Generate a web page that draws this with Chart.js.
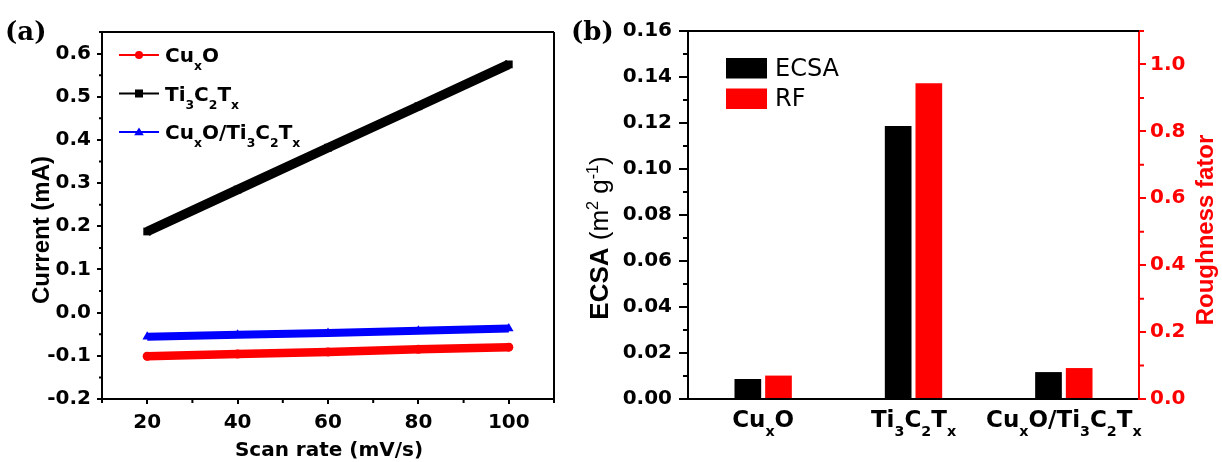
<!DOCTYPE html>
<html>
<head>
<meta charset="utf-8">
<script src="https://cdn.jsdelivr.net/npm/chart.js@4.4.0/dist/chart.umd.min.js"></script>
<style>
  body { margin: 0; background: #fff; }
  #wrap { position: relative; width: 1222px; height: 462px; }
  #panelA { position: absolute; left: 0; top: 0; }
  #panelB { position: absolute; left: 560px; top: 0; }
</style>
</head>
<body>
<div id="wrap">
  <canvas id="panelA" width="560" height="462"></canvas>
  <canvas id="panelB" width="662" height="462"></canvas>
</div>
<script>
// panel (a): current vs scan rate
const scanRate = [20, 40, 60, 80, 100];
const currentCuxO = [-0.101, -0.096, -0.091, -0.085, -0.080];
const currentTi3C2Tx = [0.188, 0.285, 0.382, 0.478, 0.575];
const currentComposite = [-0.056, -0.051, -0.047, -0.042, -0.037];
const scanTicks = [20, 40, 60, 80, 100];
const scanMinor = [10, 30, 50, 70, 90, 110];
const currentTicks = [-0.2, -0.1, 0.0, 0.1, 0.2, 0.3, 0.4, 0.5, 0.6];
const currentMinor = [-0.15, -0.05, 0.05, 0.15, 0.25, 0.35, 0.45, 0.55, 0.65];

// panel (b): ECSA and roughness factor
const materials = ['Cu_{x}O', 'Ti_{3}C_{2}T_{x}', 'Cu_{x}O/Ti_{3}C_{2}T_{x}'];
const ecsa = [0.0087, 0.1187, 0.0117];
const roughness = [0.070, 0.944, 0.0925];
const ecsaTicks = [0, 0.02, 0.04, 0.06, 0.08, 0.10, 0.12, 0.14, 0.16];
const ecsaMinor = [0.01, 0.03, 0.05, 0.07, 0.09, 0.11, 0.13, 0.15];
const rfTicks = [0, 0.2, 0.4, 0.6, 0.8, 1.0];
const rfMinor = [0.1, 0.3, 0.5, 0.7, 0.9, 1.1];

const RED = '#ff0000';
const BLUE = '#0000ff';

Chart.defaults.font.family = 'DejaVu Sans';

// "Cu_{x}O" -> segments with sub/superscripts
function parseRich(str) {
    const segs = [];
    const re = /([_^])\{([^}]*)\}|([^_^]+)/g;
    let m;
    while ((m = re.exec(str))) {
        if (m[3]) segs.push({ t: m[3], mode: '' });
        else segs.push({ t: m[2], mode: m[1] === '_' ? 'sub' : 'sup' });
    }
    return segs;
}

function drawRich(ctx, segs, x, y, o) {
    const size = o.size;
    const fam = o.family || 'DejaVu Sans';
    const fontFor = s => {
        const w = s.weight || o.weight || 'bold';
        const sz = s.mode ? size * 0.62 : size;
        return `${w} ${sz}px "${fam}"`;
    };
    let total = 0;
    segs.forEach(s => { ctx.font = fontFor(s); s.w = ctx.measureText(s.t).width; total += s.w; });
    let cx = o.align === 'center' ? x - total / 2 : x;
    ctx.fillStyle = o.color || '#000';
    ctx.textAlign = 'left';
    ctx.textBaseline = 'alphabetic';
    segs.forEach(s => {
        ctx.font = fontFor(s);
        let dy = 0;
        if (s.mode === 'sub') dy = size * 0.4;
        if (s.mode === 'sup') dy = -size * 0.4;
        ctx.fillText(s.t, cx, y + dy);
        cx += s.w;
    });
}

function drawRotated(ctx, segs, x, y, o) {
    ctx.save();
    ctx.translate(x, y);
    ctx.rotate(-Math.PI / 2);
    drawRich(ctx, segs, 0, 0, Object.assign({ align: 'center' }, o));
    ctx.restore();
}

function drawMarker(ctx, style, x, y, r, color) {
    ctx.fillStyle = color;
    ctx.beginPath();
    if (style === 'circle') ctx.arc(x, y, r, 0, Math.PI * 2);
    else if (style === 'rect') ctx.rect(x - r, y - r, 2 * r, 2 * r);
    else {
        ctx.moveTo(x, y - r * 1.1);
        ctx.lineTo(x + r * 1.2, y + r * 0.8);
        ctx.lineTo(x - r * 1.2, y + r * 0.8);
        ctx.closePath();
    }
    ctx.fill();
}

// short outward ticks between the labelled ones
function minorTicks(chart, id, values, len, color) {
    const s = chart.scales[id];
    const ctx = chart.ctx;
    ctx.save();
    ctx.strokeStyle = color;
    ctx.lineWidth = 2;
    ctx.beginPath();
    values.forEach(v => {
        const p = s.getPixelForValue(v);
        if (s.isHorizontal()) {
            ctx.moveTo(p, s.top); ctx.lineTo(p, s.top + len);
        } else if (s.position === 'left') {
            ctx.moveTo(s.right - len, p); ctx.lineTo(s.right, p);
        } else {
            ctx.moveTo(s.left, p); ctx.lineTo(s.left + len, p);
        }
    });
    ctx.stroke();
    ctx.restore();
}

function line(ctx, x1, y1, x2, y2, color) {
    ctx.save();
    ctx.strokeStyle = color;
    ctx.lineWidth = 2;
    ctx.beginPath();
    ctx.moveTo(x1, y1);
    ctx.lineTo(x2, y2);
    ctx.stroke();
    ctx.restore();
}

const tickGrid = len => ({ drawOnChartArea: false, color: '#000', lineWidth: 2, tickLength: len });
const blackBorder = { display: true, color: '#000', width: 2 };

// ---------- panel (a) ----------
const decorA = {
    id: 'decorA',
    afterDraw(chart) {
        const ctx = chart.ctx;
        const a = chart.chartArea;
        line(ctx, a.left - 1, a.top, a.right, a.top, '#000');
        line(ctx, a.right, a.top, a.right, a.bottom, '#000');
        minorTicks(chart, 'x', scanMinor, 4, '#000');
        minorTicks(chart, 'y', currentMinor, 3, '#000');

        // legend
        const rows = [55, 93.5, 132];
        chart.data.datasets.forEach((ds, i) => {
            const y = rows[i];
            line(ctx, 119, y, 159, y, ds.borderColor);
            drawMarker(ctx, ds.pointStyle, 139, y, 4, ds.borderColor);
            drawRich(ctx, parseRich(ds.label), 165, y + 7, { size: 20 });
        });

        drawRotated(ctx, parseRich('Current (mA)'), 49, 230, { size: 24, family: 'Liberation Sans' });
        drawRich(ctx, parseRich('Scan rate (mV/s)'), 329, 456, { size: 20, align: 'center' });

        ctx.font = 'bold 26px "DejaVu Serif"';
        ctx.fillStyle = '#000';
        ctx.textAlign = 'left';
        ctx.fillText('(a)', 5, 40);
    }
};

const toPoints = ys => scanRate.map((x, i) => ({ x: x, y: ys[i] }));

new Chart(document.getElementById('panelA'), {
    type: 'line',
    data: {
        datasets: [
            {
                label: 'Cu_{x}O', data: toPoints(currentCuxO),
                borderColor: RED, backgroundColor: RED, borderWidth: 8.5, borderCapStyle: 'round',
                pointStyle: 'circle', pointRadius: 4.5, pointBorderWidth: 0
            },
            {
                label: 'Ti_{3}C_{2}T_{x}', data: toPoints(currentTi3C2Tx),
                borderColor: '#000', backgroundColor: '#000', borderWidth: 9.5,
                pointStyle: 'rect', pointRadius: 5.5, pointBorderWidth: 0
            },
            {
                label: 'Cu_{x}O/Ti_{3}C_{2}T_{x}', data: toPoints(currentComposite),
                borderColor: BLUE, backgroundColor: BLUE, borderWidth: 8,
                pointStyle: 'triangle', pointRadius: 5.5, pointBorderWidth: 0
            }
        ]
    },
    options: {
        responsive: false,
        animation: false,
        events: [],
        layout: { padding: { top: 32, right: 6, left: 0, bottom: 0 } },
        plugins: { legend: { display: false }, tooltip: { enabled: false } },
        scales: {
            x: {
                type: 'linear', min: 10, max: 110,
                afterBuildTicks: s => { s.ticks = scanTicks.map(v => ({ value: v })); },
                afterFit: s => { s.height = 63; },
                grid: tickGrid(5),
                border: blackBorder,
                ticks: { color: '#000', padding: 7, maxRotation: 0, font: { size: 20, weight: 'bold' } }
            },
            y: {
                type: 'linear', min: -0.2, max: 0.65,
                afterBuildTicks: s => { s.ticks = currentTicks.map(v => ({ value: v })); },
                afterFit: s => { s.width = 102; },
                grid: tickGrid(5),
                border: blackBorder,
                ticks: { color: '#000', padding: 6, font: { size: 20, weight: 'bold' }, callback: v => Number(v).toFixed(1) }
            }
        }
    },
    plugins: [decorA]
});

// ---------- panel (b) ----------
const decorB = {
    id: 'decorB',
    afterDraw(chart) {
        const ctx = chart.ctx;
        const a = chart.chartArea;
        line(ctx, a.left - 1, a.top, a.right, a.top, '#000');
        minorTicks(chart, 'y', ecsaMinor, 5, '#000');
        minorTicks(chart, 'y1', rfMinor, 5, RED);

        // legend boxes
        const boxTops = [58, 88.5];
        chart.data.datasets.forEach((ds, i) => {
            ctx.fillStyle = ds.backgroundColor;
            ctx.fillRect(166, boxTops[i], 41, 20.5);
            ctx.font = '24px "DejaVu Sans"';
            ctx.fillStyle = '#000';
            ctx.textAlign = 'left';
            ctx.textBaseline = 'alphabetic';
            ctx.fillText(ds.label, 215, boxTops[i] + 17.5);
        });

        // category labels with subscripts
        const xs = chart.scales.x;
        materials.forEach((m, i) => {
            drawRich(ctx, parseRich(m), xs.getPixelForValue(i), 427, { size: 23, align: 'center' });
        });

        drawRotated(ctx, [
            { t: 'ECSA', mode: '', weight: 'bold' },
            { t: ' (m', mode: '', weight: 'normal' },
            { t: '2', mode: 'sup', weight: 'normal' },
            { t: ' g', mode: '', weight: 'normal' },
            { t: '-1', mode: 'sup', weight: 'normal' },
            { t: ')', mode: '', weight: 'normal' }
        ], 48, 238, { size: 26, family: 'Liberation Sans' });
        drawRotated(ctx, parseRich('Roughness fator'), 653, 230, { size: 24, family: 'Liberation Sans', color: RED });

        ctx.font = 'bold 26px "DejaVu Serif"';
        ctx.fillStyle = '#000';
        ctx.textAlign = 'left';
        ctx.textBaseline = 'alphabetic';
        ctx.fillText('(b)', 11, 40);
    }
};

new Chart(document.getElementById('panelB'), {
    type: 'bar',
    data: {
        labels: materials,
        datasets: [
            { label: 'ECSA', data: ecsa, backgroundColor: '#000', yAxisID: 'y', categoryPercentage: 0.408, barPercentage: 0.87 },
            { label: 'RF', data: roughness, backgroundColor: RED, yAxisID: 'y1', categoryPercentage: 0.408, barPercentage: 0.87 }
        ]
    },
    options: {
        responsive: false,
        animation: false,
        events: [],
        layout: { padding: { top: 31, right: 0, left: 0, bottom: 0 } },
        plugins: { legend: { display: false }, tooltip: { enabled: false } },
        scales: {
            x: {
                afterFit: s => { s.height = 63; },
                grid: { display: false },
                border: blackBorder,
                ticks: { display: false }
            },
            y: {
                position: 'left', min: 0, max: 0.16,
                afterBuildTicks: s => { s.ticks = ecsaTicks.map(v => ({ value: v })); },
                afterFit: s => { s.width = 128; },
                grid: tickGrid(9),
                border: blackBorder,
                ticks: { color: '#000', padding: 7, font: { size: 20, weight: 'bold' }, callback: v => Number(v).toFixed(2) }
            },
            y1: {
                position: 'right', min: 0, max: 1.1,
                afterBuildTicks: s => { s.ticks = rfTicks.map(v => ({ value: v })); },
                afterFit: s => { s.width = 83; },
                grid: { drawOnChartArea: false, color: RED, lineWidth: 2, tickLength: 7 },
                border: { display: true, color: RED, width: 2 },
                ticks: { color: RED, padding: 4, font: { size: 20, weight: 'bold' }, callback: v => Number(v).toFixed(1) }
            }
        }
    },
    plugins: [decorB]
});
</script>
</body>
</html>
